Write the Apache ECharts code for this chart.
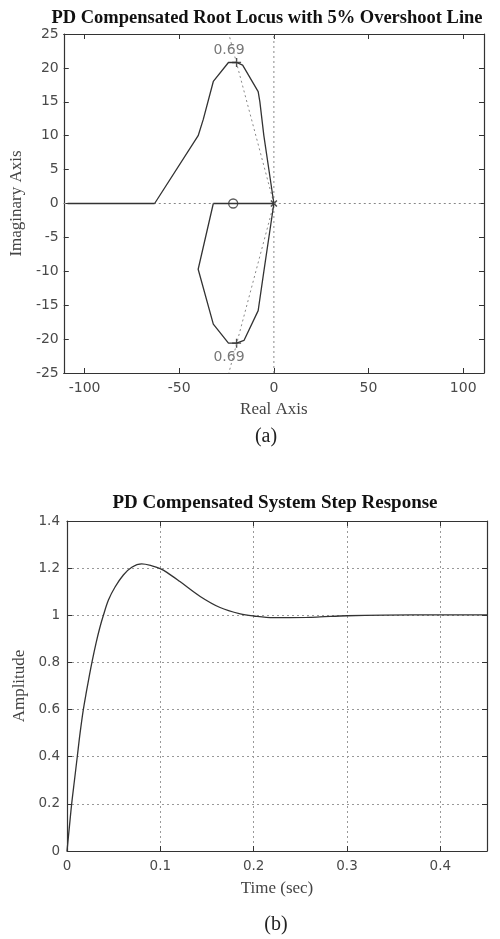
<!DOCTYPE html>
<html><head><meta charset="utf-8">
<script src="https://cdn.jsdelivr.net/npm/echarts@6/dist/echarts.min.js"></script>
<style>html,body{margin:0;padding:0;background:#fff}#c{width:500px;height:939px}</style>
</head><body><div id="c"></div>
<script>
// ---- Root locus data (panel a) ----
const rlTitle = 'PD Compensated Root Locus with 5% Overshoot Line';
const rlXName = 'Real Axis';
const rlYName = 'Imaginary Axis';
const rlXTicks = [-100, -50, 0, 50, 100];
const rlXRange = [-111, 111];
const rlYRange = [-25, 25];
const upperBranch = [[-63,0],[-40,10],[-37.3,12.4],[-32,18],[-24,20.8],[-19.7,20.8],[-16.5,20.4],[-8.3,16.5],[-7.4,15],[-5.3,10],[0,0]];
const lowerBranch = [[-32,0],[-40,-9.7],[-32,-17.8],[-24,-20.6],[-19.7,-20.6],[-15.8,-20.2],[-8.3,-15.8],[-5.3,-10],[0,0]];
const realAxisLocusLeft = [[-109,0],[-63,0]];
const realAxisLocusRight = [[-32,0],[0,0]];
const overshootUpper = [[0,0],[-23.8,25]];
const overshootLower = [[0,0],[-23.8,-25]];
const zeroPoints = [[-21.5,0]];
const polePoints = [[0,0]];
const selectedPoles = [[-19.7,20.8],[-19.7,-20.6]];
const zetaLabelPos = [[-23.7,22.6],[-23.7,-22.7]];
const zetaLabels = ['0.69','0.69'];

// ---- Step response data (panel b) ----
const stepTitle = 'PD Compensated System Step Response';
const stepXName = 'Time (sec)';
const stepYName = 'Amplitude';
const stepTime = [0,0.0025,0.005,0.008,0.011,0.014,0.0175,0.021,0.024,0.0272,0.031,0.035,0.039,0.0444,0.0515,0.0604,0.0694,0.080,0.091,0.0998,0.107,0.121,0.1427,0.164,0.1856,0.200,0.221,0.257,0.271,0.300,0.340,0.400,0.450];
const stepAmp  = [0,0.1,0.2,0.3,0.4,0.5,0.6,0.68,0.745,0.81,0.88,0.945,1.0,1.065,1.12,1.171,1.204,1.218,1.21,1.198,1.182,1.143,1.08,1.033,1.006,0.997,0.99,0.991,0.993,0.998,1.001,1.002,1.002];
const stepXTicks = [0, 0.1, 0.2, 0.3, 0.4];
const stepXRange = [0, 0.45];
const stepYRange = [0, 1.4];

const captions = ['(a)', '(b)'];

const serif = 'Liberation Serif';
const sans = 'DejaVu Sans';
const axisCol = '#333';
const tickCol = '#4a4a4a';
const lineCol = '#333';
const dotCol = '#888';

function boxAxis(gridIndex, pos, extra) {
  return Object.assign({
    type: 'value', gridIndex, position: pos,
    axisLine: {show: true, onZero: false, lineStyle: {color: axisCol, width: 1.2}},
    axisTick: {show: true, inside: true, length: 5, lineStyle: {color: axisCol}},
    axisLabel: {show: false},
    splitLine: {show: false}
  }, extra);
}

const chart = echarts.init(document.getElementById('c'), null, {renderer: 'canvas'});
const dotted = {color: dotCol, width: 1, type: [2, 3]};
const solid = {color: lineCol, width: 1.3};

chart.setOption({
  animation: false,
  backgroundColor: '#fff',
  grid: [
    {left: 63, right: 16, top: 34, height: 339},
    {left: 67, right: 13, top: 521, height: 330}
  ],
  xAxis: [
    boxAxis(0, 'bottom', {min: rlXRange[0], max: rlXRange[1],
      axisTick: {show: true, inside: true, length: 5, customValues: rlXTicks, lineStyle: {color: axisCol}},
      axisLabel: {show: true, customValues: rlXTicks, margin: 8, color: tickCol, fontFamily: sans, fontSize: 14},
      name: rlXName, nameLocation: 'middle', nameGap: 28,
      nameTextStyle: {fontFamily: serif, fontSize: 17, color: '#444'}}),
    boxAxis(0, 'top', {min: rlXRange[0], max: rlXRange[1],
      axisTick: {show: true, inside: true, length: 5, customValues: rlXTicks, lineStyle: {color: axisCol}}}),
    boxAxis(1, 'bottom', {min: stepXRange[0], max: stepXRange[1], interval: 0.1,
      axisLabel: {show: true, customValues: stepXTicks, margin: 8, color: tickCol, fontFamily: sans, fontSize: 13.5},
      splitLine: {show: true, lineStyle: {color: '#999', width: 1, type: [2, 3]}},
      name: stepXName, nameLocation: 'middle', nameGap: 29,
      nameTextStyle: {fontFamily: serif, fontSize: 17, color: '#444'}}),
    boxAxis(1, 'top', {min: stepXRange[0], max: stepXRange[1], interval: 0.1})
  ],
  yAxis: [
    boxAxis(0, 'left', {min: rlYRange[0], max: rlYRange[1], interval: 5,
      axisLabel: {show: true, margin: 5, color: tickCol, fontFamily: sans, fontSize: 14},
      name: rlYName, nameLocation: 'middle', nameGap: 28,
      nameTextStyle: {fontFamily: serif, fontSize: 17, color: '#444'}}),
    boxAxis(0, 'right', {min: rlYRange[0], max: rlYRange[1], interval: 5}),
    boxAxis(1, 'left', {min: stepYRange[0], max: stepYRange[1], interval: 0.2,
      axisLabel: {show: true, margin: 7, color: tickCol, fontFamily: sans, fontSize: 13.5},
      splitLine: {show: true, lineStyle: {color: '#999', width: 1, type: [2, 3]}},
      name: stepYName, nameLocation: 'middle', nameGap: 24,
      nameTextStyle: {fontFamily: serif, fontSize: 17, color: '#444'}}),
    boxAxis(1, 'right', {min: stepYRange[0], max: stepYRange[1], interval: 0.2})
  ],
  graphic: [
    {type: 'text', x: 267, y: 18, style: {text: rlTitle, font: 'bold 18.5px "Liberation Serif"', fill: '#111', align: 'center', verticalAlign: 'middle'}},
    {type: 'text', x: 275, y: 503, style: {text: stepTitle, font: 'bold 19px "Liberation Serif"', fill: '#111', align: 'center', verticalAlign: 'middle'}},
    {type: 'text', x: 266, y: 437, style: {text: captions[0], font: '20px "Liberation Serif"', fill: '#222', align: 'center', verticalAlign: 'middle'}},
    {type: 'text', x: 276, y: 925, style: {text: captions[1], font: '20px "Liberation Serif"', fill: '#222', align: 'center', verticalAlign: 'middle'}}
  ],
  series: [
    {type: 'line', xAxisIndex: 0, yAxisIndex: 0, data: [[rlXRange[0],0],[rlXRange[1],0]], showSymbol: false, lineStyle: dotted},
    {type: 'line', xAxisIndex: 0, yAxisIndex: 0, data: [[0,rlYRange[0]],[0,rlYRange[1]]], showSymbol: false, lineStyle: dotted},
    {type: 'line', xAxisIndex: 0, yAxisIndex: 0, data: overshootUpper, showSymbol: false, lineStyle: dotted},
    {type: 'line', xAxisIndex: 0, yAxisIndex: 0, data: overshootLower, showSymbol: false, lineStyle: dotted},
    {type: 'line', xAxisIndex: 0, yAxisIndex: 0, data: realAxisLocusLeft, showSymbol: false, lineStyle: solid},
    {type: 'line', xAxisIndex: 0, yAxisIndex: 0, data: realAxisLocusRight, showSymbol: false, lineStyle: solid},
    {type: 'line', xAxisIndex: 0, yAxisIndex: 0, data: upperBranch, showSymbol: false, lineStyle: solid},
    {type: 'line', xAxisIndex: 0, yAxisIndex: 0, data: lowerBranch, showSymbol: false, lineStyle: solid},
    {type: 'scatter', xAxisIndex: 0, yAxisIndex: 0, data: zeroPoints, symbol: 'circle', symbolSize: 9,
      itemStyle: {color: '#fff', borderColor: '#333', borderWidth: 1.3}},
    {type: 'scatter', xAxisIndex: 0, yAxisIndex: 0, data: polePoints, symbol: 'path://M0,0L10,10M0,10L10,0', symbolSize: 6,
      itemStyle: {color: 'rgba(0,0,0,0)', borderColor: '#222', borderWidth: 1.5}},
    {type: 'scatter', xAxisIndex: 0, yAxisIndex: 0, data: selectedPoles, symbol: 'path://M0,5L10,5M5,0L5,10', symbolSize: 9,
      itemStyle: {color: 'rgba(0,0,0,0)', borderColor: '#222', borderWidth: 1.4}},
    {type: 'scatter', xAxisIndex: 0, yAxisIndex: 0, data: zetaLabelPos.map((p, i) => ({value: p, name: zetaLabels[i]})),
      symbolSize: 1, itemStyle: {color: 'rgba(0,0,0,0)'},
      label: {show: true, position: 'inside', formatter: p => p.name, fontFamily: sans, fontSize: 14, color: '#555'}},
    {type: 'line', xAxisIndex: 2, yAxisIndex: 2, data: stepTime.map((t, i) => [t, stepAmp[i]]), showSymbol: false,
      smooth: 0.35, lineStyle: {color: lineCol, width: 1.3}}
  ]
});
</script></body></html>
